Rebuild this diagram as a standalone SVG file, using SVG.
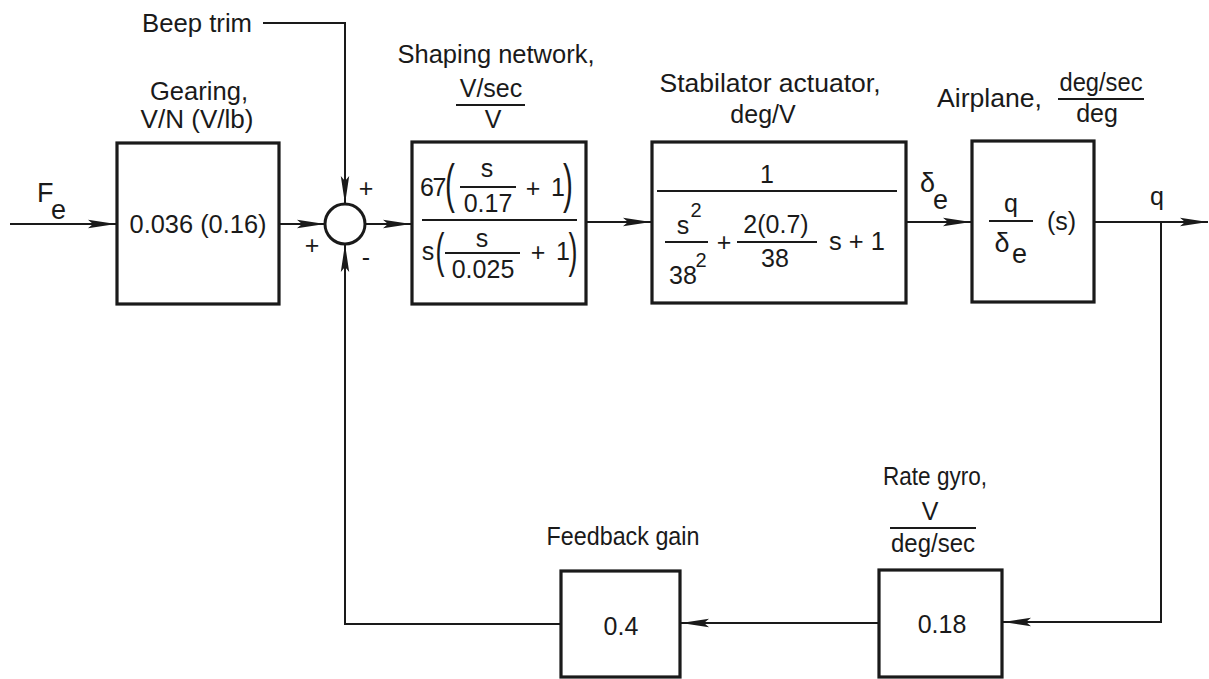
<svg xmlns="http://www.w3.org/2000/svg" width="1209" height="679" viewBox="0 0 1209 679">
<style>
text{font-family:"Liberation Sans",Arial,sans-serif;font-size:25px;fill:#1a1a1a}
.m{text-anchor:middle}
.sup{font-size:20px}
.sub{font-size:27px}
.box{fill:#fff;stroke:#1a1a1a;stroke-width:3.2}
.bar{stroke:#1a1a1a;stroke-width:2}
.ln{fill:none;stroke:#1a1a1a;stroke-width:2}
</style>
<defs>
<marker id="arr" markerUnits="userSpaceOnUse" markerWidth="30" markerHeight="12" refX="28" refY="6" orient="auto">
<path d="M0,1.8 L28,6 L0,10.2 L5,6 Z" fill="#1a1a1a"/>
</marker>
</defs>
<rect width="1209" height="679" fill="#fff"/>

<g id="connectors">
<path class="ln" d="M10,224 H116" marker-end="url(#arr)"/>
<path class="ln" d="M279,224 H325" marker-end="url(#arr)"/>
<path class="ln" d="M365,224 H411" marker-end="url(#arr)"/>
<path class="ln" d="M586,222 H651" marker-end="url(#arr)"/>
<path class="ln" d="M907,222 H971" marker-end="url(#arr)"/>
<path class="ln" d="M1094,222 H1208" marker-end="url(#arr)"/>
<path class="ln" d="M263,23 H345 V204" marker-end="url(#arr)"/>
<path class="ln" d="M1161,222 V622 H1003" marker-end="url(#arr)"/>
<path class="ln" d="M879,623 H681" marker-end="url(#arr)"/>
<path class="ln" d="M561,624 H345 V244" marker-end="url(#arr)"/>
</g>

<g id="input">
<text x="37" y="202" style="font-size:27px">F</text>
<text x="51" y="219" style="font-size:27px">e</text>
</g>

<g id="beep-trim">
<text x="142" y="32" textLength="110" lengthAdjust="spacingAndGlyphs">Beep trim</text>
</g>

<g id="gearing">
<rect class="box" x="117" y="143" width="162" height="161"/>
<text x="199" y="100" class="m" textLength="98" lengthAdjust="spacingAndGlyphs">Gearing,</text>
<text x="197" y="128" class="m" textLength="113" lengthAdjust="spacingAndGlyphs">V/N (V/lb)</text>
<text x="198" y="233" class="m" textLength="137" lengthAdjust="spacingAndGlyphs">0.036 (0.16)</text>
</g>

<g id="summing-junction">
<circle cx="345" cy="224" r="20" fill="#fff" stroke="#1a1a1a" stroke-width="3"/>
<text x="366" y="197" class="m">+</text>
<text x="312" y="254" class="m">+</text>
<text x="366" y="266" class="m">-</text>
</g>

<g id="shaping-network">
<rect class="box" x="412" y="142" width="174" height="162"/>
<text x="496" y="63" class="m" textLength="197" lengthAdjust="spacingAndGlyphs">Shaping network,</text>
<text x="491" y="97" class="m">V/sec</text>
<line class="bar" x1="456" y1="105" x2="525" y2="105"/>
<text x="493" y="128" class="m">V</text>
<text x="420" y="196" style="letter-spacing:-1.5px">67</text>
<text transform="translate(450,202) scale(0.55,1)" class="m" style="font-size:54px">(</text>
<text x="487" y="177" class="m">s</text>
<line class="bar" x1="460" y1="187" x2="516" y2="187"/>
<text x="488" y="212" class="m">0.17</text>
<text x="533" y="197" class="m">+</text>
<text x="558" y="196" class="m">1</text>
<text transform="translate(568,202) scale(0.55,1)" class="m" style="font-size:54px">)</text>
<line class="bar" x1="422" y1="220" x2="577" y2="220"/>
<text x="428" y="260" class="m">s</text>
<text transform="translate(440,267) scale(0.55,1)" class="m" style="font-size:49px">(</text>
<text x="482" y="247" class="m">s</text>
<line class="bar" x1="445" y1="253" x2="520" y2="253"/>
<text x="483" y="278" class="m">0.025</text>
<text x="538" y="261" class="m">+</text>
<text x="563" y="260" class="m">1</text>
<text transform="translate(573,267) scale(0.55,1)" class="m" style="font-size:49px">)</text>
</g>

<g id="stabilator-actuator">
<rect class="box" x="652" y="142" width="254" height="161"/>
<text x="770" y="92" class="m" textLength="221" lengthAdjust="spacingAndGlyphs">Stabilator actuator,</text>
<text x="763" y="123" class="m">deg/V</text>
<text x="767" y="183" class="m">1</text>
<line class="bar" x1="657" y1="191" x2="897" y2="191"/>
<text x="683" y="234" class="m">s</text>
<text x="696" y="217" class="m sup">2</text>
<line class="bar" x1="665" y1="242" x2="708" y2="242"/>
<text x="683" y="284" class="m">38</text>
<text x="701" y="267" class="m sup">2</text>
<text x="724" y="251" class="m">+</text>
<text x="776" y="233" class="m">2(0.7)</text>
<line class="bar" x1="737" y1="242" x2="817" y2="242"/>
<text x="775" y="267" class="m">38</text>
<text x="829" y="250" textLength="56" lengthAdjust="spacingAndGlyphs">s + 1</text>
</g>

<g id="delta-e-label">
<text x="920" y="192" class="sub">δ</text>
<text x="933" y="209" class="sub">e</text>
</g>

<g id="airplane">
<rect class="box" x="972" y="141" width="122" height="161"/>
<text x="937" y="107" textLength="105" lengthAdjust="spacingAndGlyphs">Airplane,</text>
<text x="1101" y="91" class="m" textLength="83" lengthAdjust="spacingAndGlyphs">deg/sec</text>
<line class="bar" x1="1058" y1="99" x2="1144" y2="99"/>
<text x="1097" y="122" class="m">deg</text>
<text x="1011" y="212" class="m">q</text>
<line class="bar" x1="989" y1="221" x2="1033" y2="221"/>
<text x="1002" y="252" class="m sub">δ</text>
<text x="1012" y="263" class="sub">e</text>
<text x="1047" y="230">(s)</text>
</g>

<g id="output-q">
<text x="1157" y="205" class="m">q</text>
</g>

<g id="rate-gyro">
<rect class="box" x="879" y="570" width="123" height="107"/>
<text x="935" y="485" class="m" textLength="104" lengthAdjust="spacingAndGlyphs">Rate gyro,</text>
<text x="930" y="520" class="m">V</text>
<line class="bar" x1="890" y1="528" x2="976" y2="528"/>
<text x="933" y="552" class="m" textLength="84" lengthAdjust="spacingAndGlyphs">deg/sec</text>
<text x="942" y="633" class="m">0.18</text>
</g>

<g id="feedback-gain">
<rect class="box" x="561" y="571" width="119" height="106"/>
<text x="623" y="545" class="m" textLength="153" lengthAdjust="spacingAndGlyphs">Feedback gain</text>
<text x="621" y="635" class="m">0.4</text>
</g>
</svg>
